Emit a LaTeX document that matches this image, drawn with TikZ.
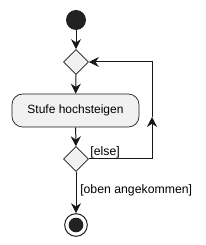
\documentclass[tikz,border=0pt]{standalone}
\usepackage{fontspec}
\setmainfont{Liberation Sans}
\usepackage{tikz}
\usetikzlibrary{positioning, arrows.meta, shapes.geometric}
\usepackage{xcolor}
\definecolor{umlfill}{HTML}{F1F1F1}
\definecolor{umlline}{HTML}{181818}
\definecolor{umldot}{HTML}{222222}

\begin{document}
\begin{tikzpicture}[x=0.75pt, y=-0.75pt,
    flow/.style={draw=umlline, line width=0.75pt,
        -{Stealth[length=7.5pt, width=7.5pt, inset=2.5pt]}},
    decision/.style={diamond, draw=umlline, fill=umlfill, line width=0.5pt,
        inner sep=0pt, minimum width=18.75pt, minimum height=18.75pt},
    activity/.style={draw=umlline, fill=umlfill, line width=0.5pt,
        rounded corners=8pt, minimum width=95.25pt, minimum height=24.75pt,
        font=\fontsize{9}{11}\selectfont},
    guard/.style={font=\fontsize{9.2}{11}\selectfont, inner sep=0pt}]
    % Frame of the picture
    \useasboundingbox (0,0) rectangle (205,245);

    % Start and first merge
    \node[circle, fill=umldot, minimum size=15pt, inner sep=0pt] (start) at (76,20) {};
    \node[decision] (merge) at (76,62) {};

    % Step
    \node[activity] (step1) at (75.5,110.5) {Stufe hochsteigen};

    % Decision and end
    \node[decision] (check) at (76,159) {};
    \node[circle, draw=umlline, line width=0.75pt, minimum size=17pt, inner sep=0pt] (stop) at (76,225) {};
    \node[circle, fill=umldot, minimum size=11pt, inner sep=0pt] at (stop) {};

    % Loop back line
    \coordinate (loop) at (152,117);

    \draw[flow] (start) -- (merge);
    \draw[flow] (merge) -- (step1);
    \draw[flow] (step1) -- (check);
    \draw[flow] (check) -- (stop);
    \draw[flow] (check.east) -- (check.east -| loop) -- (loop);
    \draw[flow] (loop) |- (merge.east);

    % Guards
    \node[guard, anchor=south west] (elselbl) at ([xshift=1pt, yshift=0.5pt]check.east) {[else]};
    \node[guard, anchor=west] (uplbl) at (80,190) {[oben angekommen]};
\end{tikzpicture}
\end{document}
